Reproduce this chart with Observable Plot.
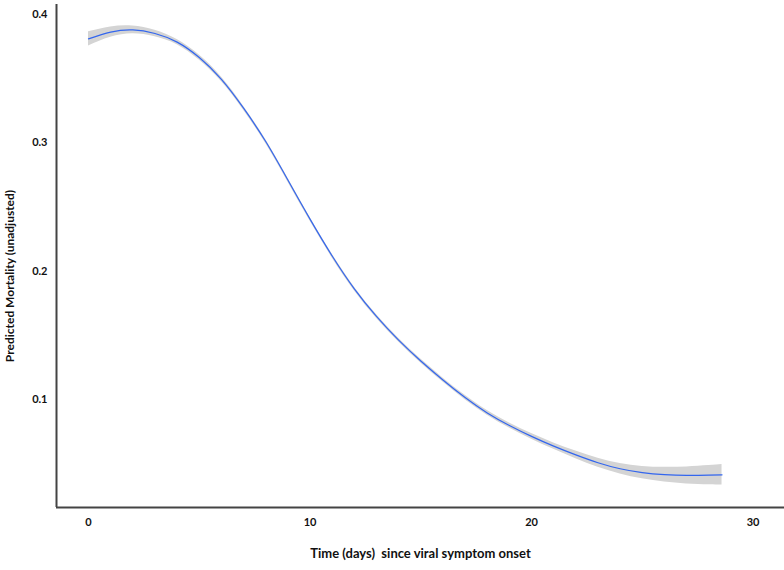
<!DOCTYPE html>
<html>
<head>
<meta charset="utf-8">
<script src="https://cdn.jsdelivr.net/npm/d3@7"></script>
<script src="https://cdn.jsdelivr.net/npm/@observablehq/plot@0.6"></script>
<style>
  body { margin: 0; background: #fff; }
  svg text { white-space: pre; }
</style>
</head>
<body>
<div id="chart"></div>
<script>
const days = [0, 1, 2, 3, 4, 5, 6, 7, 8, 9, 10, 11, 12, 13, 14, 15, 16, 17, 18, 19, 20, 21, 22, 23, 24, 25, 26, 27, 28, 28.6];
const mortality = [0.381, 0.3863, 0.3880, 0.3852, 0.3785, 0.3665, 0.3495, 0.3270, 0.3010, 0.2710, 0.2405, 0.2118, 0.1862, 0.1647, 0.1462, 0.1300, 0.1152, 0.1015, 0.0895, 0.0797, 0.0712, 0.0636, 0.0568, 0.0507, 0.0460, 0.0430, 0.0414, 0.0408, 0.0410, 0.0413];
const halfWidth = [0.0055, 0.004, 0.003, 0.0025, 0.002, 0.002, 0.0018, 0.0016, 0.0015, 0.0015, 0.0015, 0.0015, 0.0015, 0.0015, 0.0015, 0.0015, 0.0016, 0.0017, 0.0018, 0.002, 0.0022, 0.0025, 0.003, 0.0035, 0.004, 0.0048, 0.0057, 0.0066, 0.0075, 0.008];
const xTicks = [0, 10, 20, 30];
const yTicks = [0.1, 0.2, 0.3, 0.4];
const xTitle = "Time (days)  since viral symptom onset";
const yTitle = "Predicted Mortality (unadjusted)";

const data = days.map((d, i) => ({
  t: d, m: mortality[i], lo: mortality[i] - halfWidth[i], hi: mortality[i] + halfWidth[i]
}));

const xDomain = [-1.445, 31.42];
const yDomain = [0.0158, 0.4078];

const chart = Plot.plot({
  width: 784,
  height: 570,
  marginLeft: 56,
  marginRight: 0,
  marginTop: 4,
  marginBottom: 63,
  style: { fontFamily: "Lato, 'Open Sans', sans-serif", fontSize: "11px", fontWeight: "bold", color: "#111", background: "#fff" },
  x: { domain: xDomain },
  y: { domain: yDomain },
  marks: [
    Plot.areaY(data, { x: "t", y1: "lo", y2: "hi", fill: "#d4d4d4", curve: "natural" }),
    Plot.line(data, { x: "t", y: "m", stroke: "#3366ee", strokeWidth: 1.2, curve: "natural" }),
    Plot.ruleX([xDomain[0]], { stroke: "#444", strokeWidth: 2 }),
    Plot.ruleY([yDomain[0]], { stroke: "#444", strokeWidth: 2 }),
    Plot.axisX(xTicks, {
      tickSize: 0, tickPadding: 11, tickFormat: d => String(d), label: null, fontSize: 11
    }),
    Plot.axisY(yTicks, {
      tickSize: 0, tickPadding: 9, tickFormat: d => d.toFixed(1), label: null, fontSize: 11
    }),
    Plot.text([xTitle], { text: d => d, frameAnchor: "bottom", dy: 50, fontSize: 13, fill: "#111" }),
    Plot.text([yTitle], { text: d => d, frameAnchor: "left", textAnchor: "middle", dx: -46, dy: 20, rotate: -90, fontSize: 12, fill: "#111" })
  ]
});

document.getElementById("chart").appendChild(chart);
</script>
</body>
</html>
